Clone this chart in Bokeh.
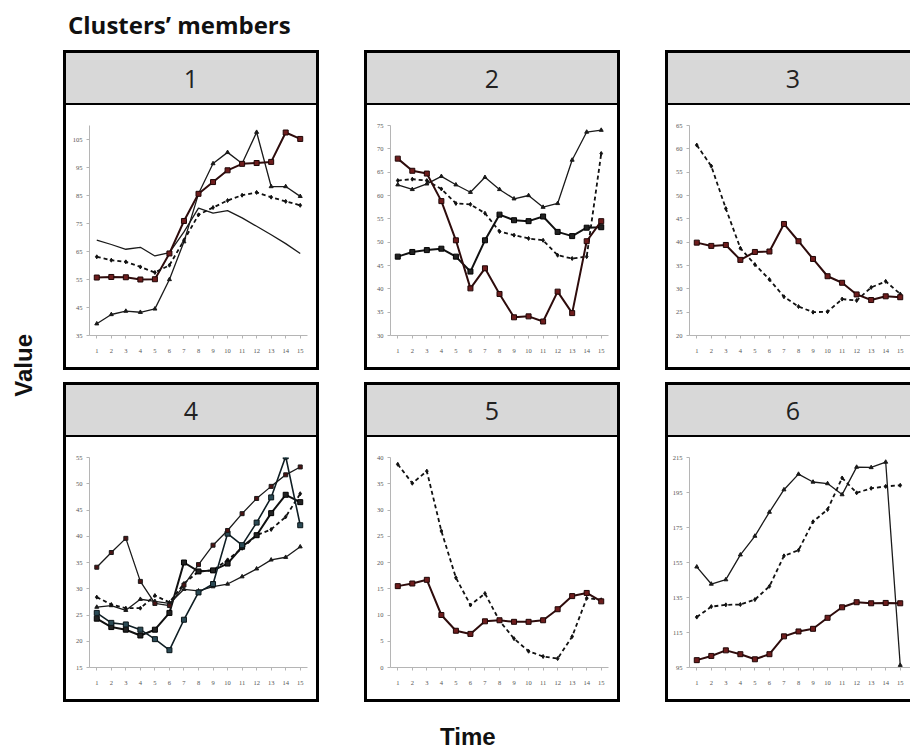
from bokeh.plotting import figure
from bokeh.layouts import column, row
from bokeh.models import Div, FixedTicker, Range1d
from bokeh.embed import file_html
from bokeh.resources import INLINE

time = list(range(1, 16))

# Cluster 1
c1_a = [69.1, 67.5, 65.8, 66.5, 63.4, 64.6, 72.0, 80.5, 78.7, 79.6, 77.0, 74.0, 71.0, 67.8, 64.3]
c1_b = [39.2, 42.5, 43.7, 43.3, 44.5, 55.0, 68.5, 85.6, 96.4, 100.4, 96.4, 107.6, 88.2, 88.2, 84.7]
c1_c = [55.7, 55.9, 55.8, 55.0, 55.1, 64.3, 75.9, 85.6, 89.8, 94.0, 96.3, 96.6, 97.0, 107.5, 105.2]
c1_d = [63.1, 61.9, 61.3, 59.5, 57.5, 60.1, 69.0, 78.1, 80.7, 83.2, 85.1, 86.1, 84.4, 82.9, 81.5]
# Cluster 2
c2_a = [67.9, 65.3, 64.7, 58.8, 50.4, 40.1, 44.4, 38.9, 33.9, 34.1, 33.0, 39.4, 34.8, 50.2, 54.5]
c2_b = [46.9, 47.9, 48.3, 48.6, 46.9, 43.7, 50.4, 55.9, 54.7, 54.5, 55.5, 52.2, 51.3, 53.1, 53.2]
c2_c = [62.3, 61.3, 62.5, 64.1, 62.3, 60.7, 63.9, 61.3, 59.3, 60.0, 57.5, 58.3, 67.6, 73.6, 74.0]
c2_d = [63.2, 63.5, 63.2, 61.4, 58.3, 58.1, 56.2, 52.3, 51.5, 50.8, 50.4, 47.2, 46.5, 46.9, 69.0]
# Cluster 3
c3_a = [39.9, 39.2, 39.4, 36.2, 37.9, 38.0, 43.9, 40.2, 36.4, 32.7, 31.3, 28.8, 27.6, 28.4, 28.2]
c3_b = [60.8, 56.3, 47.2, 38.7, 35.2, 32.0, 28.3, 26.2, 25.0, 25.1, 27.8, 27.5, 30.3, 31.6, 28.9]
# Cluster 4
c4_a = [34.1, 36.9, 39.6, 31.4, 27.2, 26.8, 30.7, 34.6, 38.3, 41.1, 44.3, 47.2, 49.5, 51.7, 53.2]
c4_b = [25.4, 23.5, 23.2, 22.2, 20.4, 18.3, 24.1, 29.3, 30.9, 40.5, 38.3, 42.6, 47.4, 55.2, 42.1]
c4_c = [24.3, 22.7, 22.2, 21.1, 22.2, 25.4, 35.0, 33.3, 33.5, 34.8, 38.0, 40.2, 44.4, 47.9, 46.5]
c4_d = [26.5, 26.8, 25.9, 28.0, 27.6, 27.2, 29.9, 29.6, 30.4, 30.9, 32.3, 33.8, 35.5, 36.0, 38.0]
c4_e = [28.4, 27.0, 26.3, 26.3, 28.7, 27.4, 31.0, 33.3, 33.5, 35.5, 37.7, 40.2, 41.3, 43.7, 48.1]
# Cluster 5
c5_a = [38.7, 35.1, 37.4, 26.0, 17.1, 11.9, 14.1, 8.9, 5.5, 3.1, 2.1, 1.7, 5.9, 13.2, 12.9]
c5_b = [15.5, 16.0, 16.7, 10.0, 7.0, 6.4, 8.8, 9.0, 8.7, 8.7, 9.0, 11.1, 13.6, 14.2, 12.6]
# Cluster 6
c6_a = [152.5, 142.7, 145.2, 159.4, 170.1, 183.8, 196.6, 205.5, 201.0, 200.1, 193.8, 209.5, 209.3, 212.4, 96.3]
c6_b = [123.8, 129.8, 130.8, 131.0, 133.8, 141.4, 158.8, 162.0, 178.3, 185.3, 203.3, 194.8, 197.4, 198.5, 199.1]
c6_c = [99.2, 101.6, 104.8, 102.6, 99.7, 102.6, 112.8, 115.6, 117.1, 123.4, 129.4, 132.3, 131.7, 131.9, 131.7]

y_ranges = {1: (35, 110), 2: (30, 75), 3: (20, 65), 4: (15, 55), 5: (0, 40), 6: (95, 215)}
y_ticks = {1: list(range(35, 106, 10)), 2: list(range(30, 76, 5)), 3: list(range(20, 66, 5)),
           4: list(range(15, 56, 5)), 5: list(range(0, 41, 5)), 6: list(range(95, 216, 20))}
series = {
    1: [(c1_a, "plain"), (c1_b, "tri"), (c1_c, "sq"), (c1_d, "dash")],
    2: [(c2_c, "tri"), (c2_d, "dash"), (c2_b, "sqb"), (c2_a, "sq")],
    3: [(c3_b, "dash"), (c3_a, "sq")],
    4: [(c4_d, "tri"), (c4_e, "dash"), (c4_c, "sqb"), (c4_b, "sqt"), (c4_a, "thin")],
    5: [(c5_a, "dash"), (c5_b, "sq")],
    6: [(c6_a, "tri"), (c6_b, "dash"), (c6_c, "sq")],
}

PX_PER_UNIT = 218 / 15.0


def draw(p, ys, style):
    if style == "sq":
        p.line(time, ys, line_color="#2e0c0c", line_width=2)
        p.scatter(time, ys, marker="square", size=5, fill_color="#6e1d1d", line_color="#1e0606")
    elif style == "sqb":
        p.line(time, ys, line_color="#111111", line_width=2)
        p.scatter(time, ys, marker="square", size=5, fill_color="#222222", line_color="#000000")
    elif style == "sqt":
        p.line(time, ys, line_color="#0f1e24", line_width=1.6)
        p.scatter(time, ys, marker="square", size=5, fill_color="#2b4a55", line_color="#0a1417")
    elif style == "tri":
        p.line(time, ys, line_color="#1a1a1a", line_width=1.3)
        p.scatter(time, ys, marker="triangle", size=4, fill_color="#1a1a1a", line_color="#1a1a1a")
    elif style == "thin":
        p.line(time, ys, line_color="#1a1a1a", line_width=1.3)
        p.scatter(time, ys, marker="square", size=4, fill_color="#4a1414", line_color="#1a1a1a")
    elif style == "plain":
        p.line(time, ys, line_color="#1a1a1a", line_width=1.3)
    elif style == "dash":
        p.line(time, ys, line_color="#111111", line_width=1.8, line_dash="4 3")
        p.scatter(time, ys, marker="diamond", size=4, fill_color="#111111", line_color="#111111")


def make_panel(k, cropped=False):
    outer_w = 245 if cropped else 256
    inner_w = outer_w - (3 if cropped else 6)
    header_styles = {
        "background-color": "#d8d8d8",
        "border-bottom": "2px solid #000000",
        "text-align": "center",
        "font-family": "Open Sans",
        "font-size": "25px",
        "line-height": "50px",
        "color": "#222222",
        "box-sizing": "border-box",
    }
    if cropped:
        header_styles["padding-left"] = "8px"
    header = Div(text=str(k), width=inner_w, height=52, margin=0, styles=header_styles)

    mb_left = 21 if cropped else 23
    mb_right = 0 if cropped else 9
    frame_w = inner_w - mb_left - mb_right
    x_end = 0.5 + frame_w / PX_PER_UNIT
    p = figure(width=inner_w, height=262, x_range=Range1d(0.5, x_end),
               y_range=Range1d(*y_ranges[k]), toolbar_location=None,
               output_backend="svg", min_border_left=mb_left, min_border_right=mb_right,
               min_border_top=20, min_border_bottom=32, margin=0)
    p.grid.visible = False
    p.outline_line_color = None
    p.background_fill_color = "white"
    p.border_fill_color = "white"
    p.xaxis.ticker = FixedTicker(ticks=time)
    p.yaxis.ticker = FixedTicker(ticks=y_ticks[k])
    for ax in p.axis:
        ax.axis_line_color = "#b5b5b5"
        ax.major_tick_line_color = "#b5b5b5"
        ax.minor_tick_line_color = None
        ax.major_tick_out = 3
        ax.major_tick_in = 0
        ax.major_label_text_font_size = "6.5px"
        ax.major_label_text_font = "Liberation Serif"
        ax.major_label_text_color = "#555555"
    p.xaxis.major_label_standoff = 10
    p.yaxis.major_label_standoff = 4

    for ys, style in series[k]:
        draw(p, ys, style)

    border = {"border": "3px solid #000000", "background-color": "white"}
    if cropped:
        border = {"border-top": "3px solid #000000", "border-left": "3px solid #000000",
                  "border-bottom": "3px solid #000000", "background-color": "white"}
    return column(header, p, spacing=0, margin=0, styles=border)


title = Div(text='<span style="margin-left:60px">Clusters’ members</span>', width=903, height=42,
            margin=0,
            styles={"font-family": "Open Sans", "font-weight": "bold", "font-size": "24px",
                    "line-height": "34px", "color": "#111111"})

value_lbl = Div(
    text='<div style="margin-top:284px;margin-left:2px;writing-mode:vertical-rl;'
         'transform:rotate(180deg);font-family:\'Liberation Sans\';font-weight:bold;'
         'font-size:24px;line-height:28px;color:#111111;white-space:nowrap">Value</div>',
    width=55, height=652, margin=0)

grid = column(
    row(make_panel(1), make_panel(2), make_panel(3, cropped=True), spacing=45, margin=0),
    row(make_panel(4), make_panel(5), make_panel(6, cropped=True), spacing=45, margin=0),
    spacing=12, margin=0)

time_lbl = Div(
    text='<div style="padding-left:432px;padding-top:25px;font-family:\'Liberation Sans\';'
         'font-weight:bold;font-size:24px;line-height:20px;color:#111111">Time</div>',
    width=895, height=39, margin=0)

layout = column(title, row(value_lbl, grid, spacing=0, margin=0), time_lbl,
                spacing=0, margin=(8, 0, 0, 8))

open("out.html", "w").write(file_html(layout, INLINE))
